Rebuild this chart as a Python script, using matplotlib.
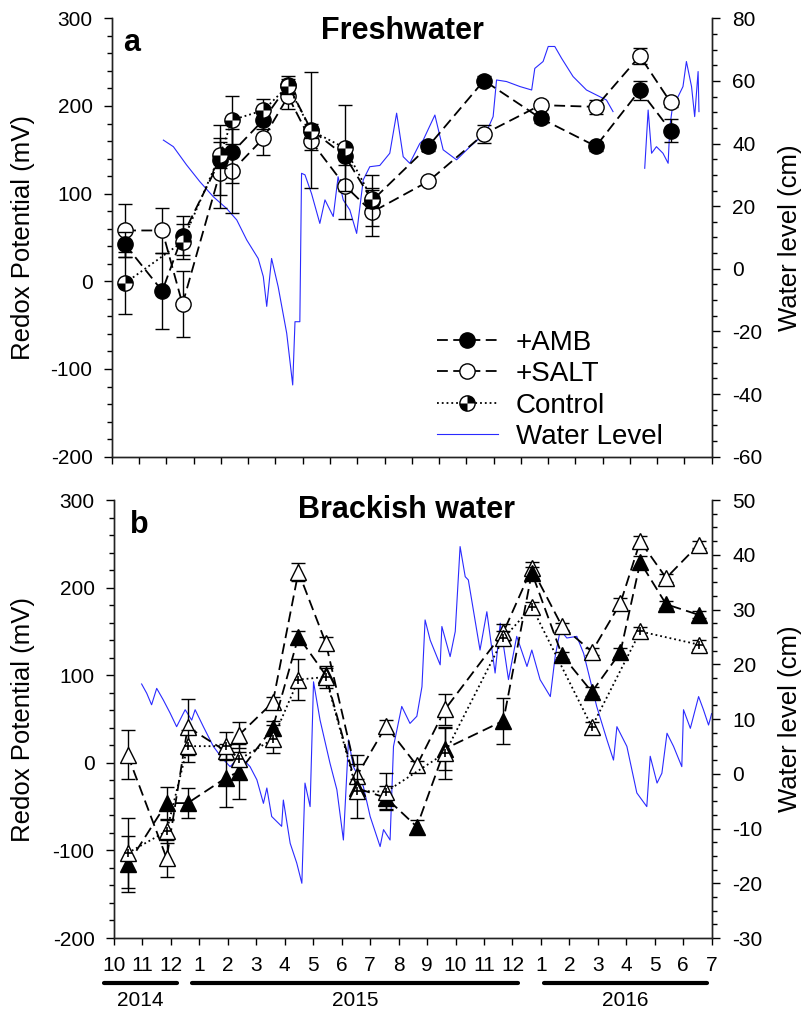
import numpy as np
import matplotlib
matplotlib.use('Agg')
import matplotlib.pyplot as plt
from matplotlib.path import Path
from matplotlib.lines import Line2D
from matplotlib.legend_handler import HandlerTuple
from matplotlib.ticker import MultipleLocator, FixedLocator

plt.rcParams['font.family'] = ['Liberation Sans', 'DejaVu Sans']
plt.rcParams['axes.unicode_minus'] = False

# x = months since 1 Oct 2014
month_labels = ['10', '11', '12', '1', '2', '3', '4', '5', '6', '7', '8', '9',
                '10', '11', '12', '1', '2', '3', '4', '5', '6', '7']
year_spans = [('2014', -0.35, 2.2), ('2015', 2.75, 14.2), ('2016', 15.1, 20.85)]

# ---- (a) freshwater ----
fw_x = [0.46, 1.76, 2.47, 3.78, 4.21, 5.30, 6.17, 6.97, 8.16, 9.11,
        11.08, 13.03, 15.01, 16.95, 18.49, 19.57]
fw_amb = [42, -11, 52, 138, 147, 184, 224, 173, 143, 92, 154, 229, 186, 154, 218, 172]
fw_amb_err = [14, 43, 22, 40, 35, 10, 10, 66, 10, 29, 5, 5, 5, 5, 11, 13]
fw_salt = [58, 58, -26, 124, 126, 163, 211, 160, 109, 79, 114, 168, 201, 199, 257, 204]
fw_salt_err = [30, 26, 38, 40, 48, 19, 14, 10, 38, 27, 4, 10, 5, 8, 9, 5]
fw_ctrl_x = [0.46, 2.47, 3.78, 4.21, 5.30, 6.17, 6.97, 8.16, 9.11]
fw_ctrl = [-2, 45, 144, 184, 195, 223, 172, 152, 94]
fw_ctrl_err = [35, 20, 15, 27, 13, 8, 8, 49, 10]

fw_wl_x = [1.80, 2.15, 2.61, 3.08, 3.55, 4.01, 4.37, 4.72, 5.12, 5.30, 5.42, 5.59,
           5.82, 6.12, 6.33, 6.41, 6.58, 6.64, 6.76, 6.99, 7.28, 7.46, 7.75, 7.92,
           8.10, 8.33, 8.57, 8.80, 9.03, 9.38, 9.73, 9.97, 10.20, 10.43, 10.78,
           10.90, 11.31, 11.60, 12.07, 12.54, 13.12, 13.35, 13.47, 13.82, 14.29,
           14.70, 14.81, 15.10, 15.28, 15.51, 15.75, 16.15, 16.62, 16.97, 17.32,
           17.55, 18.10, 18.66, 18.78, 18.90, 19.07, 19.30, 19.48, 19.54, 19.65,
           19.83, 20.00, 20.12, 20.30, 20.41, 20.53, 20.56]
fw_wl = [41.1, 39.0, 33.2, 27.8, 23.0, 19.3, 15.6, 9.2, 3.3, -2.5, -12.0, 3.3,
         -5.7, -20.6, -37.1, -16.9, -16.9, 30.5, 30.0, 24.0, 14.5, 22.0, 16.7, 29.4,
         22.0, 18.8, 11.3, 28.4, 32.6, 33.0, 36.9, 49.7, 35.8, 33.7, 40.0,
         41.1, 49.1, 38.0, 34.8, 39.0, 43.8, 48.6, 60.3, 59.8, 58.2,
         57.1, 64.0, 66.2, 71.0, 71.0, 67.2, 61.4, 57.1, 55.5, 53.9,
         50.2, np.nan, 32.1, 50.7, 36.9, 39.0, 36.9, 33.7, 45.4, 52.9,
         55.0, 58.2, 66.2, 58.2, 48.6, 63.0, 50.2]

# ---- (b) brackish water ----
bw_x = [0.48, 1.85, 2.59, 3.94, 4.40, 5.58, 6.48, 7.44, 8.53, 9.56,
        10.64, 11.63, 13.68, 14.68, 15.74, 16.79, 17.79, 18.49, 19.40, 20.54]
bw_amb = [-116, -46, -46, -17, -10, 40, 144, 100, -29, -40,
          -73, 16, 48, 217, 123, 81, 126, 229, 181, 169]
bw_amb_err = [32, 18, 17, 34, 31, 8, 7, 8, 10, 13, 8, 24, 26, 6, 4, 5, 5, 7, 4, 4]
bw_salt = [9, -109, 41, 13, 32, 69, 218, 137, -15, 42,
           -3, 61, 149, 222, 156, 127, 182, 253, 211, 249]
bw_salt_err = [28, 21, 32, 8, 15, 6, 10, 7, 24, 7, 5, 18, 10, 7, 4, 4, 6, 6, 4, 4]
bw_ctrl_x = [0.48, 1.85, 2.59, 3.94, 4.40, 5.58, 6.48, 7.44, 8.53, 9.56,
             11.63, 13.68, 14.68, 16.79, 18.49, 20.54]
bw_ctrl = [-103, -78, 19, 19, 4, 27, 95, 98, -32, -33, 11, 142, 178, 41, 150, 135]
bw_ctrl_err = [40, 13, 18, 16, 8, 16, 23, 13, 31, 21, 30, 8, 6, 6, 5, 5]

bw_wl_x = [0.97, 1.15, 1.32, 1.50, 1.73, 1.97, 2.20, 2.50, 2.73, 2.85, 3.14, 3.49,
           3.79, 4.08, 4.43, 4.78, 5.02, 5.25, 5.37, 5.54, 5.89, 5.95, 6.19, 6.42,
           6.60, 6.71, 6.89, 7.01, 7.24, 7.59, 7.83, 8.06, 8.24, 8.41, 8.76, 9.00,
           9.35, 9.47, 9.70, 9.82, 10.11, 10.40, 10.64, 10.82, 10.93, 11.11, 11.46,
           11.52, 11.81, 11.99, 12.16, 12.34, 12.45, 12.86, 13.10, 13.39, 13.57,
           13.86, 14.15, 14.51, 14.68, 14.97, 15.33, 15.50, 15.68, 15.91, 16.26,
           16.50, 16.96, 17.32, 17.55, 17.67, 18.02, 18.37, 18.72, 18.84, 19.08,
           19.25, 19.43, 19.66, 19.95, 20.01, 20.25, 20.54, 20.71, 20.89, 21.0]
bw_wl = [16.4, 14.7, 12.6, 15.6, 13.5, 11.1, 8.6, 11.7, 9.8, 11.7, 8.6, 5.0,
         2.9, 1.3, 3.2, 1.3, -1.1, -5.4, -2.6, -7.8, -9.6, -4.8, -12.7, -16.3,
         -20.0, -1.7, -6.0, 16.8, 9.8, 1.9, -2.9, -12.1, 6.2, 1.3, -2.3, -7.8,
         -13.3, -10.2, -12.1, 5.0, 12.3, 9.2, 10.5, 15.9, 28.1, 24.4, 19.9,
         26.9, 21.4, 26.0, 41.5, 36.0, 35.4, 22.6, 29.6, 18.4, 27.5,
         17.2, 25.1, 19.6, 22.6, 17.2, 14.1, 21.4, 26.3, 24.8, 25.1,
         22.0, 12.3, 6.2, 2.5, 8.6, 5.0, -3.5, -6.0, 3.2, -1.7,
         0.1, 7.4, 5.0, 1.3, 11.7, 8.3, 14.1, 11.7, 8.9, 11.0]

# quadrant filled circle for Control
quad = Path.make_compound_path(Path.wedge(0, 90), Path.wedge(180, 270))

DASH = (0, (6, 3))
MS = 11
BLUE = '#2a2aff'


def draw_series(ax, x, y, err, marker, face, ls, zo):
    ax.errorbar(x, y, yerr=err, fmt='none', ecolor='black', elinewidth=1.0,
                capsize=5, capthick=1.0, zorder=zo)
    ax.plot(x, y, linestyle=ls, color='black', lw=1.3, marker=marker, ms=MS,
            mfc=face, mec='black', mew=1.0, zorder=zo + 0.5)


def style_axes(ax, axr, n_ticks, ylim_r, major_r, minor_r):
    ax.set_xlim(0, 21)
    ax.set_ylim(-200, 300)
    ax.yaxis.set_major_locator(MultipleLocator(100))
    ax.yaxis.set_minor_locator(MultipleLocator(20))
    ax.xaxis.set_major_locator(FixedLocator(np.linspace(0, 21, n_ticks)))
    axr.set_ylim(*ylim_r)
    axr.yaxis.set_major_locator(MultipleLocator(major_r))
    axr.yaxis.set_minor_locator(MultipleLocator(minor_r))
    for a in (ax, axr):
        a.spines['top'].set_visible(False)
        for s in a.spines.values():
            s.set_linewidth(1.0)
            s.set_color('#222222')
    ax.tick_params(axis='y', which='major', direction='out', length=6, width=1,
                   labelsize=15, pad=8)
    ax.tick_params(axis='y', which='minor', direction='out', length=3.5, width=1)
    ax.tick_params(axis='x', which='major', direction='out', length=5, width=1)
    axr.tick_params(axis='y', which='major', direction='out', length=6, width=1,
                    labelsize=15, pad=9)
    axr.tick_params(axis='y', which='minor', direction='out', length=3.5, width=1)
    ax.set_ylabel('Redox Potential (mV)', fontsize=18.5)
    axr.set_ylabel('Water level (cm)', fontsize=18.5)
    ax.set_zorder(axr.get_zorder() + 1)
    ax.patch.set_visible(False)


fig = plt.figure(figsize=(8.08, 10.11), dpi=100)

# ---------------- panel a ----------------
ax1 = fig.add_axes([0.1386, 0.5483, 0.7420, 0.4336])
ax1r = ax1.twinx()
ax1r.plot(fw_wl_x, fw_wl, color=BLUE, lw=0.8)
draw_series(ax1, fw_x, fw_salt, fw_salt_err, 'o', 'white', DASH, 3)
draw_series(ax1, fw_x, fw_amb, fw_amb_err, 'o', 'black', DASH, 4)
draw_series(ax1, fw_ctrl_x, fw_ctrl, fw_ctrl_err, 'o', 'white', ':', 5)
ax1.plot(fw_ctrl_x, fw_ctrl, linestyle='none', marker=quad, ms=MS, mfc='black',
         mew=0, zorder=6)
style_axes(ax1, ax1r, 23, (-60, 80), 20, 5)
ax1.set_xticklabels([])
ax1.yaxis.set_label_coords(-0.128, 0.5)
ax1r.yaxis.set_label_coords(1.111, 0.5)
ax1.text(0.484, 0.970, 'Freshwater', transform=ax1.transAxes, fontsize=22,
         fontweight='bold', ha='center', va='center')
ax1.text(0.033, 0.944, 'a', transform=ax1.transAxes, fontsize=22,
         fontweight='bold', ha='center', va='center')

h_amb = Line2D([], [], linestyle=DASH, color='black', lw=1.3, marker='o', ms=MS,
               mfc='black', mec='black')
h_salt = Line2D([], [], linestyle=DASH, color='black', lw=1.3, marker='o', ms=MS,
                mfc='white', mec='black')
h_ctrl_a = Line2D([], [], linestyle=':', color='black', lw=1.3, marker='o', ms=MS,
                  mfc='white', mec='black')
h_ctrl_b = Line2D([], [], linestyle='none', marker=quad, ms=MS, mfc='black', mew=0)
h_wl = Line2D([], [], color=BLUE, lw=0.8)
ax1.legend([h_amb, h_salt, (h_ctrl_a, h_ctrl_b), h_wl],
           ['+AMB', '+SALT', 'Control', 'Water Level'],
           handler_map={tuple: HandlerTuple(ndivide=1)},
           loc='upper left', bbox_to_anchor=(0.542, 0.29), frameon=False,
           fontsize=20, handlelength=2.2, handletextpad=0.65, labelspacing=0.2,
           borderpad=0, borderaxespad=0)

# ---------------- panel b ----------------
ax2 = fig.add_axes([0.1411, 0.0722, 0.7397, 0.4332])
ax2r = ax2.twinx()
ax2r.plot(bw_wl_x, bw_wl, color=BLUE, lw=0.8)
draw_series(ax2, bw_x, bw_salt, bw_salt_err, '^', 'white', DASH, 3)
draw_series(ax2, bw_x, bw_amb, bw_amb_err, '^', 'black', DASH, 4)
draw_series(ax2, bw_ctrl_x, bw_ctrl, bw_ctrl_err, '^', 'white', ':', 5)
ax2.plot(bw_ctrl_x, bw_ctrl, linestyle='none', marker='+', ms=6, mec='black',
         mew=1.2, zorder=6)
style_axes(ax2, ax2r, 22, (-30, 50), 10, 2.5)
ax2.set_xticklabels(month_labels, fontsize=15)
ax2.tick_params(axis='x', pad=8)
ax2.yaxis.set_label_coords(-0.132, 0.5)
ax2r.yaxis.set_label_coords(1.111, 0.5)
ax2.text(0.49, 0.977, 'Brackish water', transform=ax2.transAxes, fontsize=22,
         fontweight='bold', ha='center', va='center')
ax2.text(0.042, 0.943, 'b', transform=ax2.transAxes, fontsize=22,
         fontweight='bold', ha='center', va='center')

for year, x0, x1 in year_spans:
    ax2.plot([x0, x1], [-0.103, -0.103], transform=ax2.get_xaxis_transform(),
             clip_on=False, color='black', lw=3, solid_capstyle='round')
    ax2.text((x0 + x1) / 2, -0.142, year, transform=ax2.get_xaxis_transform(),
             fontsize=15, ha='center', va='center')

fig.savefig('out.png', dpi=100)
